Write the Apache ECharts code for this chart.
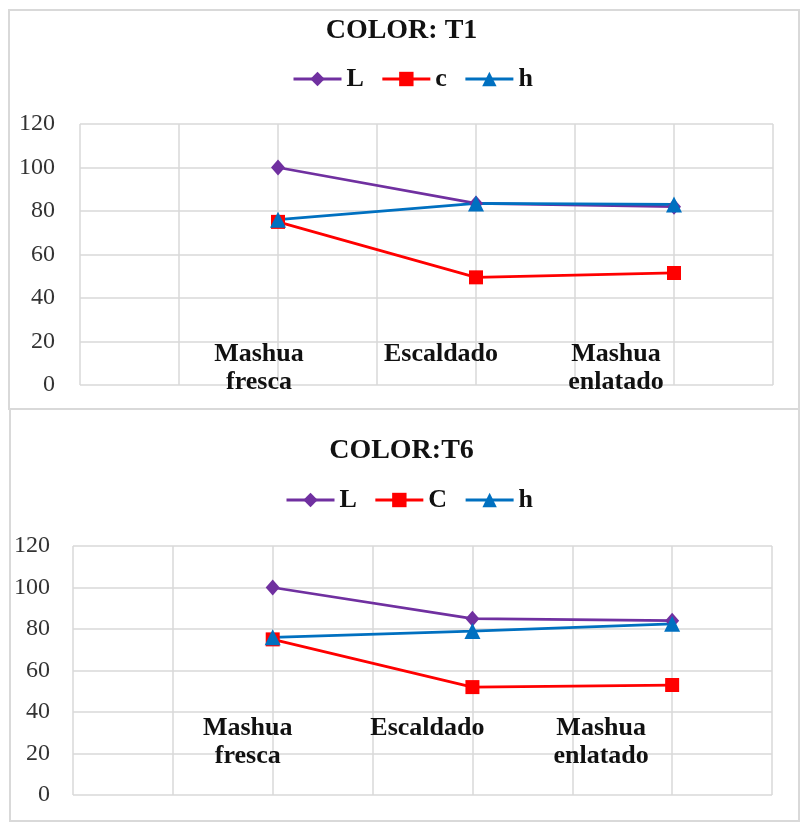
<!DOCTYPE html>
<html>
<head>
<meta charset="utf-8">
<title>COLOR: T1 / T6</title>
<script src="https://cdn.jsdelivr.net/npm/echarts@6/dist/echarts.min.js"></script>
<style>
  html, body { margin: 0; padding: 0; background: #ffffff; }
  #chart { width: 803px; height: 829px; }
</style>
</head>
<body>
<div id="chart"></div>
<script>
// Treatment stages along the x axis
const categories = ['Mashua\nfresca', 'Escaldado', 'Mashua\nenlatado'];

// Panel 1: COLOR: T1
const t1Title = 'COLOR: T1';
const t1Names = ['L', 'c', 'h'];
const t1L = [100, 83.5, 82];
const t1c = [75, 49.5, 51.5];
const t1h = [76, 83.5, 83];

// Panel 2: COLOR:T6
const t6Title = 'COLOR:T6';
const t6Names = ['L', 'C', 'h'];
const t6L = [100, 85, 84];
const t6C = [75, 52, 53];
const t6h = [76, 79, 82.5];

// Value axis ticks
const yTicks = [0, 20, 40, 60, 80, 100, 120];

const colors = ['#7030A0', '#FF0000', '#0070C0'];
const symbols = ['diamond', 'rect', 'triangle'];
const symbolSizes = [[14, 16], 14, 16];
const serif = '"Liberation Serif", "Times New Roman", serif';

// The category axis has 8 slots (7 bands); the stages sit on slots 2, 4, 6
const SLOTS = 8;
const slotOf = i => 2 + i * 2;
function slotLabels() {
  const arr = new Array(SLOTS).fill('');
  categories.forEach((c, i) => { arr[slotOf(i)] = c; });
  return arr;
}
function slotValues(vals) {
  const arr = new Array(SLOTS).fill(null);
  vals.forEach((v, i) => { arr[slotOf(i)] = v; });
  return arr;
}

function xAxisFor(gridIndex, shifts, margin, lineHeight) {
  const rich = {};
  shifts.forEach((s, i) => {
    rich['p' + slotOf(i)] = {
      fontFamily: serif, fontWeight: 'bold', fontSize: 26, color: '#111111',
      lineHeight: lineHeight, padding: [0, -2 * s, 0, 0]
    };
  });
  return {
    type: 'category', gridIndex: gridIndex, boundaryGap: false,
    data: slotLabels(),
    axisLine: { show: false }, axisTick: { show: false },
    splitLine: { show: true, interval: 0, lineStyle: { color: '#d9d9d9', width: 1.5 } },
    axisLabel: {
      interval: 0, inside: true, margin: margin, verticalAlign: 'top',
      formatter: (v, idx) => v ? v.split('\n').map(s => '{p' + idx + '|' + s + '}').join('\n') : '',
      rich: rich
    }
  };
}

function yAxisFor(gridIndex, margin) {
  return {
    type: 'value', gridIndex: gridIndex,
    min: yTicks[0], max: yTicks[yTicks.length - 1], interval: yTicks[1] - yTicks[0],
    axisLine: { show: false }, axisTick: { show: false },
    splitLine: { show: true, lineStyle: { color: '#d9d9d9', width: 1.5 } },
    axisLabel: { margin: margin, fontFamily: serif, fontSize: 24, color: '#333333' }
  };
}

function seriesFor(names, valueSets, axisIndex) {
  return names.map((n, i) => ({
    name: n, type: 'line',
    xAxisIndex: axisIndex, yAxisIndex: axisIndex,
    data: slotValues(valueSets[i]),
    connectNulls: true,
    symbol: symbols[i], symbolSize: symbolSizes[i],
    lineStyle: { color: colors[i], width: 2.75 },
    itemStyle: { color: colors[i] },
    emphasis: { disabled: true },
    animation: false
  }));
}

const legendText = { fontFamily: serif, fontWeight: 'bold', fontSize: 26, color: '#111111' };

const option = {
  backgroundColor: '#ffffff',
  animation: false,
  graphic: [
    { type: 'rect', shape: { x: 9, y: 10, width: 790, height: 399 },
      style: { fill: 'none', stroke: '#d9d9d9', lineWidth: 2 }, silent: true },
    { type: 'rect', shape: { x: 10, y: 409, width: 789, height: 412 },
      style: { fill: 'none', stroke: '#d9d9d9', lineWidth: 2 }, silent: true }
  ],
  title: [
    { text: t1Title, left: 'center', top: 12,
      textStyle: { fontFamily: serif, fontWeight: 'bold', fontSize: 28, color: '#111111' } },
    { text: t6Title, left: 'center', top: 432,
      textStyle: { fontFamily: serif, fontWeight: 'bold', fontSize: 28, color: '#111111' } }
  ],
  legend: [
    { data: t1Names, left: 287, top: 61, itemWidth: 48, itemHeight: 18, itemGap: 17,
      lineStyle: { width: 3 }, textStyle: legendText, selectedMode: false },
    { data: t6Names, left: 280, top: 482, itemWidth: 48, itemHeight: 18, itemGap: 17,
      lineStyle: { width: 3 }, textStyle: legendText, selectedMode: false }
  ],
  grid: [
    { left: 80, right: 30, top: 124, height: 261 },
    { left: 73, right: 31, top: 546, height: 249 }
  ],
  xAxis: [
    xAxisFor(0, [-19, -35, -58], 45, 28),
    xAxisFor(1, [-25, -45, -71], 81, 28)
  ],
  yAxis: [
    yAxisFor(0, 25),
    yAxisFor(1, 23)
  ],
  series: [
    ...seriesFor(t1Names, [t1L, t1c, t1h], 0),
    ...seriesFor(t6Names, [t6L, t6C, t6h], 1)
  ]
};

const chart = echarts.init(document.getElementById('chart'), null, { renderer: 'canvas' });
chart.setOption(option);
</script>
</body>
</html>
